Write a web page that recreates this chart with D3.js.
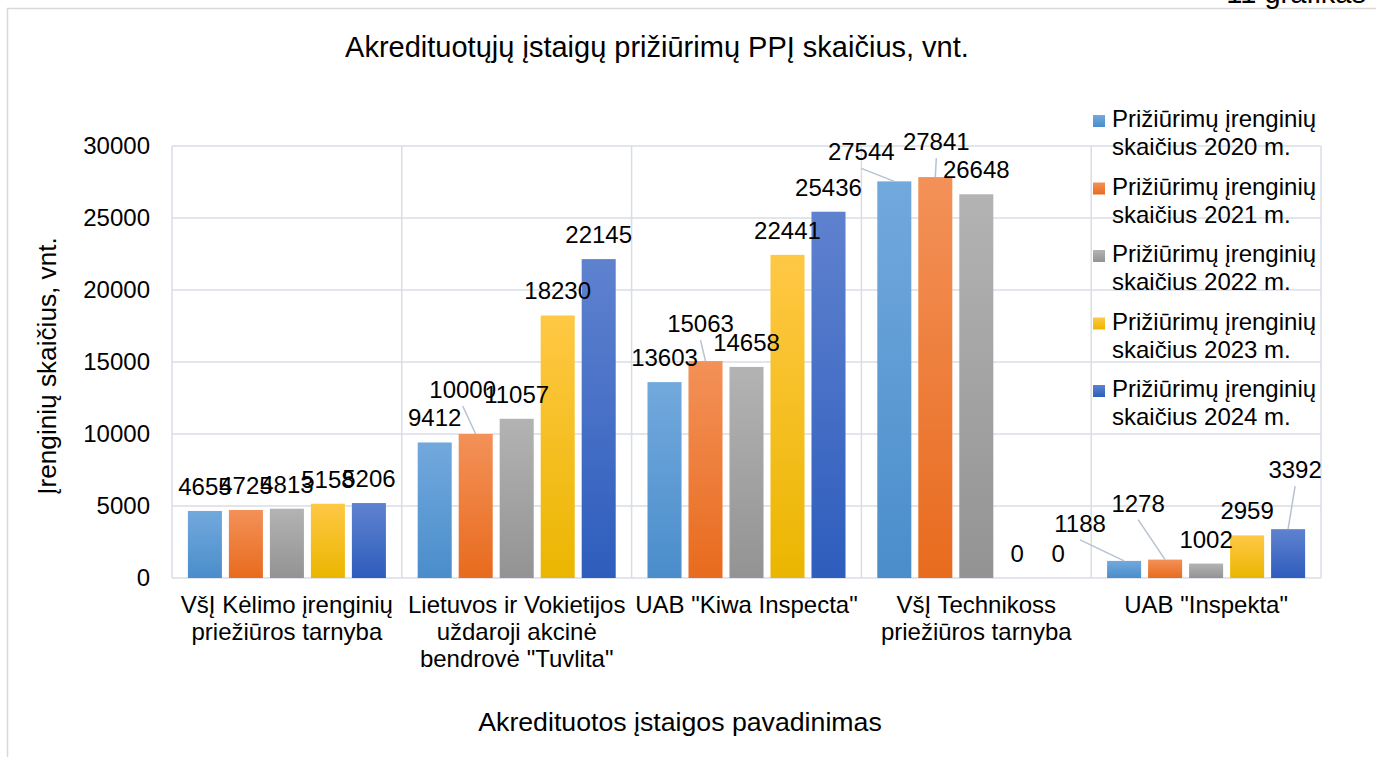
<!DOCTYPE html>
<html>
<head>
<meta charset="utf-8">
<script src="https://cdn.jsdelivr.net/npm/d3@7"></script>
<style>
  body { margin: 0; background: #fff; }
  text { font-family: "Liberation Sans", Arial, sans-serif; fill: #000; }
</style>
</head>
<body>
<div id="chart"></div>
<script>
// data
var categories = [
  ["VšĮ Kėlimo įrenginių", "priežiūros tarnyba"],
  ["Lietuvos ir Vokietijos", "uždaroji akcinė", "bendrovė \"Tuvlita\""],
  ["UAB \"Kiwa Inspecta\""],
  ["VšĮ Technikoss", "priežiūros tarnyba"],
  ["UAB \"Inspekta\""]
];
var seriesNames = [
  "Prižiūrimų įrenginių skaičius 2020 m.",
  "Prižiūrimų įrenginių skaičius 2021 m.",
  "Prižiūrimų įrenginių skaičius 2022 m.",
  "Prižiūrimų įrenginių skaičius 2023 m.",
  "Prižiūrimų įrenginių skaičius 2024 m."
];
var v2020 = [4655, 9412, 13603, 27544, 1188];
var v2021 = [4725, 10000, 15063, 27841, 1278];
var v2022 = [4813, 11057, 14658, 26648, 1002];
var v2023 = [5158, 18230, 22441, 0, 2959];
var v2024 = [5206, 22145, 25436, 0, 3392];
var yTicks = [0, 5000, 10000, 15000, 20000, 25000, 30000];

var values = [v2020, v2021, v2022, v2023, v2024];

// colours: [top, bottom] of each bar gradient
var colors = [
  ["#72a9dd", "#4a8dcb"],
  ["#f39158", "#e86b1e"],
  ["#b3b3b3", "#939393"],
  ["#ffc845", "#ebb600"],
  ["#5f82cf", "#2e5dbd"]
];

// label nudges (px) for labels Excel moved off the bar, key "series,category"
var labelNudge = {
  "1,1": [-13, -20],
  "1,2": [-5, -13],
  "0,3": [-33, -5],
  "1,3": [1, -11],
  "0,4": [-44, -13],
  "1,4": [-27, -32],
  "4,4": [7, -35]
};

var W = 1376, H = 757;
var fs = 24;
var pLeft = 172, pRight = 1321, pTop = 146, pBottom = 578;

var svg = d3.select("#chart").append("svg")
  .attr("width", W).attr("height", H);

var defs = svg.append("defs");
colors.forEach(function(c, i) {
  var g = defs.append("linearGradient").attr("id", "grad" + i)
    .attr("x1", 0).attr("y1", 0).attr("x2", 0).attr("y2", 1);
  g.append("stop").attr("offset", "0%").attr("stop-color", c[0]);
  g.append("stop").attr("offset", "100%").attr("stop-color", c[1]);
});

// outer frame
svg.append("path")
  .attr("d", "M7.5," + H + "V8.5H" + W)
  .attr("fill", "none").attr("stroke", "#d9d9d9").attr("stroke-width", 1.5);

svg.append("text")
  .attr("x", 1366).attr("y", 3)
  .attr("text-anchor", "end")
  .style("font-size", "29px")
  .text("11 grafikas");

var x = d3.scaleBand()
  .domain(d3.range(categories.length))
  .range([pLeft, pRight])
  .padding(0);

var xs = d3.scaleBand()
  .domain(d3.range(seriesNames.length))
  .range([0, x.bandwidth()])
  .paddingInner(0.17)
  .paddingOuter(0.3875);

var y = d3.scaleLinear()
  .domain([0, 30000])
  .range([pBottom, pTop]);

var grid = "#d9dde4";

// horizontal grid
svg.append("g").selectAll("line")
  .data(yTicks)
  .join("line")
  .attr("x1", pLeft).attr("x2", pRight)
  .attr("y1", function(d) { return y(d); })
  .attr("y2", function(d) { return y(d); })
  .attr("stroke", grid).attr("stroke-width", 1.5);

// vertical category dividers
svg.append("g").selectAll("line")
  .data(d3.range(categories.length + 1))
  .join("line")
  .attr("x1", function(i) { return pLeft + i * x.step(); })
  .attr("x2", function(i) { return pLeft + i * x.step(); })
  .attr("y1", pTop).attr("y2", pBottom)
  .attr("stroke", grid).attr("stroke-width", 1.5);

// y axis labels
var yAxis = d3.axisLeft(y).tickValues(yTicks).tickSize(0).tickPadding(22)
  .tickFormat(d3.format("d"));
var ya = svg.append("g")
  .attr("transform", "translate(" + pLeft + ",0)")
  .call(yAxis);
ya.select(".domain").remove();
ya.selectAll("text").style("font-size", fs + "px").attr("fill", "#000")
  .style("font-family", "Liberation Sans, Arial, sans-serif");

// bars
var bars = [];
values.forEach(function(vals, s) {
  vals.forEach(function(v, c) {
    bars.push({ s: s, c: c, v: v });
  });
});

svg.append("g").selectAll("rect")
  .data(bars)
  .join("rect")
  .attr("x", function(d) { return x(d.c) + xs(d.s); })
  .attr("y", function(d) { return y(d.v); })
  .attr("width", xs.bandwidth())
  .attr("height", function(d) { return y(0) - y(d.v); })
  .attr("fill", function(d) { return "url(#grad" + d.s + ")"; });

// leader lines + data labels
function labelPos(d) {
  var bx = x(d.c) + xs(d.s) + xs.bandwidth() / 2;
  var by = y(d.v);
  var n = labelNudge[d.s + "," + d.c] || [0, 0];
  return { bx: bx, by: by, lx: bx + n[0], ly: by - 16 + n[1] };
}

svg.append("g").selectAll("line")
  .data(bars.filter(function(d) { return labelNudge[d.s + "," + d.c]; }))
  .join("line")
  .attr("x1", function(d) { return labelPos(d).lx; })
  .attr("y1", function(d) { return labelPos(d).ly + 8; })
  .attr("x2", function(d) { return labelPos(d).bx; })
  .attr("y2", function(d) { return labelPos(d).by; })
  .attr("stroke", "#b7c2d1").attr("stroke-width", 1.5);

svg.append("g").selectAll("text")
  .data(bars)
  .join("text")
  .attr("x", function(d) { return labelPos(d).lx; })
  .attr("y", function(d) { return labelPos(d).ly; })
  .attr("text-anchor", "middle")
  .style("font-size", fs + "px")
  .text(function(d) { return d.v; });

// category labels
var cat = svg.append("g").selectAll("text")
  .data(categories)
  .join("text")
  .attr("x", function(d, i) { return x(i) + x.bandwidth() / 2; })
  .attr("y", 613)
  .attr("text-anchor", "middle")
  .style("font-size", fs + "px");
cat.selectAll("tspan")
  .data(function(d) { return d; })
  .join("tspan")
  .attr("x", function() { return d3.select(this.parentNode).attr("x"); })
  .attr("dy", function(d, i) { return i === 0 ? 0 : 27; })
  .text(function(d) { return d; });

// titles
svg.append("text")
  .attr("x", 657).attr("y", 57)
  .attr("text-anchor", "middle")
  .style("font-size", "29px")
  .text("Akredituotųjų įstaigų prižiūrimų PPĮ skaičius, vnt.");

svg.append("text")
  .attr("x", 680).attr("y", 731)
  .attr("text-anchor", "middle")
  .style("font-size", "26.7px")
  .text("Akredituotos įstaigos pavadinimas");

svg.append("text")
  .attr("transform", "translate(56,366) rotate(-90)")
  .attr("text-anchor", "middle")
  .style("font-size", "26.2px")
  .text("Įrenginių skaičius, vnt.");

// legend
var leg = svg.append("g").selectAll("g")
  .data(seriesNames)
  .join("g")
  .attr("transform", function(d, i) { return "translate(1093," + (127 + i * 67.5) + ")"; });
leg.append("rect")
  .attr("x", 0).attr("y", -12).attr("width", 12).attr("height", 12)
  .attr("fill", function(d, i) { return "url(#grad" + i + ")"; });
leg.append("text")
  .attr("x", 19).attr("y", 0)
  .style("font-size", fs + "px")
  .selectAll("tspan")
  .data(function(d) { var k = d.indexOf(" skai"); return [d.slice(0, k), d.slice(k + 1)]; })
  .join("tspan")
  .attr("x", 19)
  .attr("dy", function(d, i) { return i === 0 ? 0 : 28; })
  .text(function(d) { return d; });
</script>
</body>
</html>
